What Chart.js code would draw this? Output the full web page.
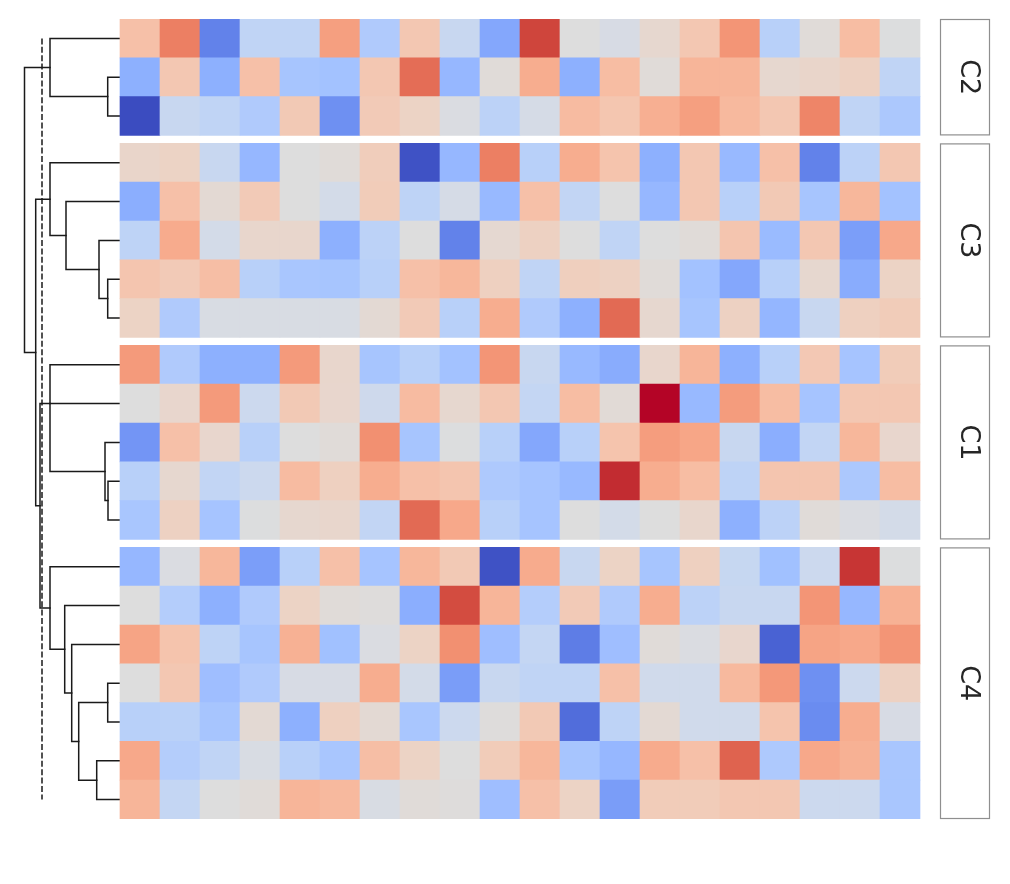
<!DOCTYPE html>
<html>
<head>
<meta charset="utf-8">
<script src="https://cdn.jsdelivr.net/npm/chart.js@4.4.1/dist/chart.umd.min.js"></script>
<style>
  body { margin: 0; background: #fff; }
</style>
</head>
<body>
<canvas id="heat" width="1010" height="884"></canvas>
<script>
// row slices, in drawn order (top to bottom)
const sliceNames = ['C2', 'C3', 'C1', 'C4'];
const nCols = 20;

// scaled values, one array of rows per slice
const rowsC2 = [
  [0.55, 1.25, -1.5, -0.4, -0.4, 0.95, -0.6, 0.45, -0.3, -1.1, 1.7, 0.0, -0.1, 0.15, 0.45, 1.05, -0.5, 0.05, 0.6, -0.02],
  [-1.0, 0.45, -1.0, 0.55, -0.7, -0.75, 0.45, 1.4, -0.9, 0.05, 0.8, -1.0, 0.6, 0.05, 0.7, 0.7, 0.15, 0.2, 0.28, -0.4],
  [-2.0, -0.3, -0.4, -0.6, 0.42, -1.35, 0.4, 0.25, -0.05, -0.45, -0.12, 0.62, 0.47, 0.77, 0.95, 0.65, 0.45, 1.2, -0.4, -0.65]
];
const rowsC3 = [
  [0.2, 0.25, -0.3, -0.9, 0.0, 0.05, 0.35, -1.95, -0.9, 1.25, -0.5, 0.8, 0.5, -1.0, 0.45, -0.88, 0.55, -1.5, -0.45, 0.45],
  [-1.02, 0.55, 0.1, 0.4, 0.0, -0.15, 0.38, -0.42, -0.12, -0.88, 0.55, -0.38, 0.0, -0.9, 0.45, -0.5, 0.42, -0.7, 0.68, -0.75],
  [-0.42, 0.82, -0.15, 0.18, 0.18, -1.0, -0.45, 0.0, -1.5, 0.12, 0.28, 0.0, -0.4, 0.0, 0.05, 0.48, -0.85, 0.45, -1.2, 0.85],
  [0.48, 0.4, 0.58, -0.5, -0.68, -0.7, -0.5, 0.55, 0.68, 0.3, -0.4, 0.32, 0.28, 0.05, -0.75, -1.1, -0.5, 0.15, -1.05, 0.25],
  [0.25, -0.6, -0.08, -0.08, -0.08, -0.08, 0.1, 0.4, -0.5, 0.8, -0.6, -1.0, 1.42, 0.15, -0.7, 0.28, -0.92, -0.3, 0.3, 0.38]
];
const rowsC1 = [
  [1.0, -0.6, -1.0, -1.0, 1.0, 0.18, -0.7, -0.5, -0.75, 1.05, -0.3, -0.88, -1.05, 0.18, 0.7, -1.0, -0.5, 0.43, -0.72, 0.38],
  [0.0, 0.17, 1.0, -0.25, 0.42, 0.17, -0.22, 0.62, 0.15, 0.45, -0.35, 0.6, 0.07, 2.0, -0.88, 0.98, 0.6, -0.72, 0.45, 0.45],
  [-1.3, 0.55, 0.17, -0.5, 0.0, 0.05, 1.1, -0.7, -0.02, -0.5, -1.1, -0.5, 0.5, 0.97, 0.88, -0.3, -1.02, -0.38, 0.68, 0.17],
  [-0.5, 0.15, -0.38, -0.25, 0.62, 0.3, 0.8, 0.55, 0.48, -0.62, -0.72, -0.88, 1.85, 0.8, 0.6, -0.42, 0.48, 0.48, -0.65, 0.6],
  [-0.68, 0.28, -0.72, -0.02, 0.15, 0.18, -0.38, 1.42, 0.85, -0.5, -0.72, 0.0, -0.15, 0.0, 0.18, -1.0, -0.45, 0.05, -0.05, -0.15]
];
const rowsC4 = [
  [-0.9, -0.05, 0.68, -1.2, -0.5, 0.55, -0.72, 0.68, 0.42, -1.95, 0.82, -0.3, 0.25, -0.7, 0.3, -0.32, -0.77, -0.25, 1.8, -0.02],
  [0.0, -0.55, -1.0, -0.6, 0.25, 0.05, 0.02, -1.02, 1.65, 0.7, -0.55, 0.4, -0.6, 0.8, -0.45, -0.3, -0.3, 1.05, -0.9, 0.75],
  [0.9, 0.5, -0.42, -0.7, 0.75, -0.77, -0.05, 0.25, 1.1, -0.8, -0.35, -1.55, -0.8, 0.05, -0.05, 0.17, -1.8, 0.9, 0.85, 1.05],
  [0.0, 0.45, -0.8, -0.6, -0.1, -0.1, 0.8, -0.15, -1.22, -0.3, -0.4, -0.4, 0.55, -0.2, -0.2, 0.65, 1.02, -1.35, -0.25, 0.28],
  [-0.5, -0.48, -0.7, 0.1, -1.0, 0.3, 0.1, -0.68, -0.25, 0.02, 0.42, -1.7, -0.42, 0.1, -0.2, -0.2, 0.5, -1.4, 0.8, -0.1],
  [0.85, -0.55, -0.4, -0.08, -0.5, -0.68, 0.58, 0.25, 0.0, 0.38, 0.68, -0.7, -0.9, 0.82, 0.55, 1.48, -0.62, 0.85, 0.75, -0.68],
  [0.7, -0.35, 0.0, 0.05, 0.7, 0.65, -0.08, 0.05, 0.02, -0.8, 0.55, 0.25, -1.22, 0.38, 0.38, 0.45, 0.45, -0.25, -0.25, -0.68]
];
const slices = [rowsC2, rowsC3, rowsC1, rowsC4];

// row dendrogram: [node id, children (row index or node id), merge height]
const dendroMerges = [
  ['a1', [1, 2], 1.23],
  ['a2', [0, 'a1'], 7.0],
  ['b1', [6, 7], 1.23],
  ['b2', [5, 'b1'], 2.1],
  ['b3', [4, 'b2'], 5.4],
  ['b4', [3, 'b3'], 7.0],
  ['c1', [11, 12], 1.2],
  ['c2', [10, 'c1'], 1.5],
  ['c3', [8, 9, 'c2'], 7.0],
  ['d1', [16, 17], 1.23],
  ['d2', [18, 19], 2.33],
  ['d3', ['d1', 'd2'], 4.13],
  ['d4', [15, 'd3'], 4.83],
  ['d5', [14, 'd4'], 5.53],
  ['d6', [13, 'd5'], 7.0],
  ['e1', ['c3', 'd6'], 8.0],
  ['e2', ['b4', 'e1'], 8.43],
  ['e3', ['a2', 'e2'], 9.55]
];
const cutHeight = 7.8;

const vMin = -2, vMax = 2;
const sliceGap = 0.206;   // gap between slices, in rows

// coolwarm colour map
const coolwarm = [
  [59,76,192],[68,90,204],[77,104,215],[87,117,225],[98,130,234],[108,142,241],[119,154,247],
  [130,165,251],[141,176,254],[152,185,255],[163,194,255],[174,201,253],[184,208,249],[194,213,244],
  [204,217,238],[213,219,230],[221,221,221],[229,216,209],[236,211,197],[241,204,185],[245,196,173],
  [247,187,160],[247,177,148],[247,166,135],[244,154,123],[241,141,111],[236,127,99],[229,112,88],
  [222,96,77],[213,80,66],[203,62,56],[192,40,47],[180,4,38]
];
function colorFor(v) {
  let t = (v - vMin) / (vMax - vMin);
  t = Math.max(0, Math.min(1, t)) * (coolwarm.length - 1);
  const i = Math.min(Math.floor(t), coolwarm.length - 2), f = t - i;
  const a = coolwarm[i], b = coolwarm[i + 1];
  const c = a.map((k, j) => Math.round(k + (b[j] - k) * f));
  return 'rgb(' + c.join(',') + ')';
}

// row positions on the y scale
const sliceStart = [];
const rowCenters = [];
let acc = 0;
slices.forEach((rows, s) => {
  sliceStart.push(acc);
  rows.forEach((r, i) => rowCenters.push(acc + i + 0.5));
  acc += rows.length + sliceGap;
});
const yMax = acc - sliceGap;

const cells = [];
let rIdx = 0;
slices.forEach(rows => {
  rows.forEach(row => {
    row.forEach((v, c) => cells.push({x: [c, c + 1], y: rowCenters[rIdx], v: v}));
    rIdx++;
  });
});

// dendrogram links
const lineStyle = {
  type: 'scatter', showLine: true, pointRadius: 0, borderColor: '#1a1a1a', borderWidth: 1.5,
  xAxisID: 'xd', yAxisID: 'y', borderJoinStyle: 'miter', borderCapStyle: 'square'
};
const nodeY = {}, nodeH = {};
const dendroSets = [];
dendroMerges.forEach(([id, kids, h]) => {
  const ys = kids.map(k => typeof k === 'number' ? rowCenters[k] : nodeY[k]);
  const hs = kids.map(k => typeof k === 'number' ? 0 : nodeH[k]);
  const last = kids.length - 1;
  dendroSets.push(Object.assign({}, lineStyle, {data: [
    {x: hs[0], y: ys[0]}, {x: h, y: ys[0]}, {x: h, y: ys[last]}, {x: hs[last], y: ys[last]}
  ]}));
  for (let i = 1; i < last; i++) {
    dendroSets.push(Object.assign({}, lineStyle, {data: [{x: h, y: ys[i]}, {x: hs[i], y: ys[i]}]}));
  }
  nodeY[id] = kids.length === 2 ? (ys[0] + ys[1]) / 2 : ys[Math.floor(kids.length / 2)];
  nodeH[id] = h;
});
dendroSets.push(Object.assign({}, lineStyle, {
  borderWidth: 1.5, borderDash: [6, 2.4], borderCapStyle: 'butt',
  data: [{x: cutHeight, y: rowCenters[0]}, {x: cutHeight, y: rowCenters[rowCenters.length - 1]}]
}));

const plotTop = 19, plotBottom = 819;
const rowPx = (plotBottom - plotTop) / yMax;

const stripPlugin = {
  id: 'strips',
  afterDatasetsDraw(chart) {
    const {ctx, scales: {x, y}} = chart;
    const left = x.getPixelForValue(nCols + 0.5), right = x.getPixelForValue(nCols + 1.75);
    sliceNames.forEach((name, s) => {
      const top = y.getPixelForValue(sliceStart[s]);
      const bottom = y.getPixelForValue(sliceStart[s] + slices[s].length);
      ctx.save();
      ctx.strokeStyle = '#8f8f8f';
      ctx.lineWidth = 1.2;
      ctx.strokeRect(left + 0.5, top + 0.5, right - left - 1, bottom - top - 1);
      ctx.translate((left + right) / 2 - 4.5, (top + bottom) / 2);
      ctx.rotate(Math.PI / 2);
      ctx.fillStyle = '#262626';
      ctx.font = '27px "DejaVu Sans"';
      ctx.textAlign = 'center';
      ctx.textBaseline = 'alphabetic';
      ctx.fillText(name, 0, 0);
      ctx.restore();
    });
  }
};

new Chart(document.getElementById('heat'), {
  type: 'scatter',
  data: {
    datasets: [{
      type: 'bar',
      indexAxis: 'y',
      data: cells,
      xAxisID: 'x',
      yAxisID: 'y',
      backgroundColor: ctx => colorFor(ctx.raw.v),
      borderWidth: 0,
      grouped: false,
      barThickness: rowPx,
      barPercentage: 1,
      categoryPercentage: 1
    }].concat(dendroSets)
  },
  options: {
    responsive: false,
    devicePixelRatio: 1,
    animation: false,
    events: [],
    layout: {padding: {left: 20, right: 20, top: plotTop, bottom: 884 - plotBottom}},
    plugins: {legend: {display: false}, tooltip: {enabled: false}},
    scales: {
      x: {type: 'linear', min: -2.5, max: nCols + 1.75, display: false, offset: false},
      xd: {type: 'linear', axis: 'x', reverse: true, min: -87, max: 10, display: false, offset: false},
      y: {type: 'linear', reverse: true, min: 0, max: yMax, display: false, offset: false}
    }
  },
  plugins: [stripPlugin]
});
</script>
</body>
</html>
